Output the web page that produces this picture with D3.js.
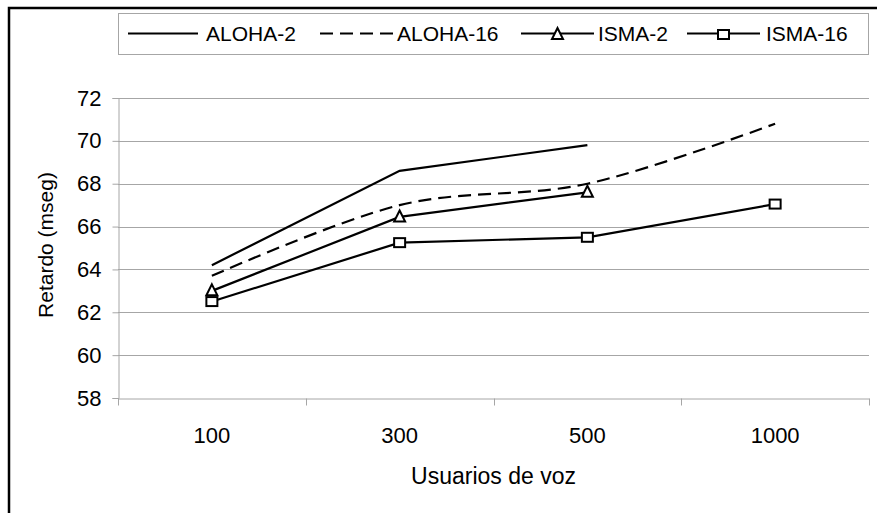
<!DOCTYPE html>
<html><head><meta charset="utf-8">
<script src="https://cdn.jsdelivr.net/npm/d3@7"></script>
<style>
html,body{margin:0;padding:0;background:#fff;}
svg{display:block;}
text{font-family:"Liberation Sans",Arial,sans-serif;fill:#000;}
</style></head>
<body>
<svg id="chart" width="877" height="513"></svg>
<script>
const categories = ["100","300","500","1000"];
const aloha2 = [64.2, 68.6, 69.8, null];
const aloha16 = [63.7, 67.0, 68.0, 70.8];
const isma2 = [63.0, 66.45, 67.6, null];
const isma16 = [62.5, 65.25, 65.5, 67.05];
const yTicks = [58,60,62,64,66,68,70,72];
const seriesNames = ["ALOHA-2","ALOHA-16","ISMA-2","ISMA-16"];

const series = [
  {name: seriesNames[0], values: aloha2, dash: null, marker: null, curve: d3.curveLinear},
  {name: seriesNames[1], values: aloha16, dash: "13,7", marker: null, curve: d3.curveCatmullRom.alpha(0)},
  {name: seriesNames[2], values: isma2, dash: null, marker: "triangle", curve: d3.curveLinear},
  {name: seriesNames[3], values: isma16, dash: null, marker: "square", curve: d3.curveLinear}
];

const svg = d3.select("#chart");
const plot = {left:118, right:869, top:98, bottom:398};

svg.append("path").attr("d","M9,520 L9,8 L880,8").attr("fill","none").attr("stroke","#000").attr("stroke-width",2.5);

const x = d3.scaleBand().domain(categories).range([plot.left, plot.right]).padding(0);
const y = d3.scaleLinear().domain([58,72]).range([plot.bottom, plot.top]);

const grid = "#a6a6a6";
svg.append("g").selectAll("line").data(yTicks.filter(t=>t>58)).join("line")
  .attr("x1",plot.left).attr("x2",plot.right)
  .attr("y1",d=>Math.round(y(d))+0.5).attr("y2",d=>Math.round(y(d))+0.5)
  .attr("stroke",grid).attr("stroke-width",1);

const yAxis = svg.append("g").attr("transform",`translate(${plot.left+0.5},0)`)
  .call(d3.axisLeft(y).tickValues(yTicks).tickSize(6).tickPadding(11).tickFormat(d3.format("d")));
yAxis.select(".domain").attr("stroke",grid);
yAxis.selectAll(".tick line").attr("stroke",grid);
yAxis.selectAll("text").attr("font-size","22px").attr("font-family","Liberation Sans, Arial, sans-serif").attr("fill","#000");

const xAxis = svg.append("g").attr("transform",`translate(0,${plot.bottom+0.5})`)
  .call(d3.axisBottom(x).tickSize(0).tickPadding(29));
xAxis.select(".domain").attr("stroke",grid);
xAxis.selectAll("text").attr("font-size","22px").attr("font-family","Liberation Sans, Arial, sans-serif").attr("fill","#000");
const bounds = categories.map(c=>x(c)).concat([x(categories[categories.length-1])+x.bandwidth()]);
xAxis.append("g").selectAll("line").data(bounds).join("line")
  .attr("x1",d=>Math.round(d)+0.5).attr("x2",d=>Math.round(d)+0.5)
  .attr("y1",0).attr("y2",7).attr("stroke",grid);

svg.append("text").attr("x",(plot.left+plot.right)/2).attr("y",484)
  .attr("text-anchor","middle").attr("font-size","23px").text("Usuarios de voz");
svg.append("text").attr("transform","translate(53,245) rotate(-90)")
  .attr("text-anchor","middle").attr("font-size","21px").text("Retardo (mseg)");

const cx = c => x(c) + x.bandwidth()/2;

function drawMarker(g, type, px, py){
  if(type==="triangle"){
    g.append("path").attr("d",`M${px},${py-6.5} L${px+5.5},${py+4.5} L${px-5.5},${py+4.5} Z`)
      .attr("fill","#fff").attr("stroke","#000").attr("stroke-width",2);
  } else if(type==="square"){
    g.append("rect").attr("x",px-5.5).attr("y",py-4.5).attr("width",11).attr("height",9)
      .attr("fill","#fff").attr("stroke","#000").attr("stroke-width",2);
  }
}

const gLines = svg.append("g");
series.forEach(s=>{
  const pts = categories.map((c,i)=>({c, v:s.values[i]})).filter(d=>d.v!=null);
  const line = d3.line().x(d=>cx(d.c)).y(d=>y(d.v)).curve(s.curve);
  gLines.append("path").attr("d",line(pts)).attr("fill","none").attr("stroke","#000")
    .attr("stroke-width",2.2).attr("stroke-dasharray",s.dash);
  if(s.marker){
    pts.forEach(d=>drawMarker(gLines, s.marker, cx(d.c), y(d.v)));
  }
});

const leg = svg.append("g");
leg.append("rect").attr("x",118.5).attr("y",13.5).attr("width",750).attr("height",41)
  .attr("fill","#fff").attr("stroke",grid).attr("stroke-width",1);
const legItems = [
  {x1:128, x2:198, tx:206},
  {x1:320, x2:394, tx:397},
  {x1:521, x2:594, tx:598},
  {x1:687, x2:760, tx:766}
];
series.forEach((s,i)=>{
  const it = legItems[i];
  const ly = 33.5;
  leg.append("line").attr("x1",it.x1).attr("x2",it.x2).attr("y1",ly).attr("y2",ly)
    .attr("stroke","#000").attr("stroke-width",2).attr("stroke-dasharray",s.dash ? "13,7" : null);
  if(s.marker) drawMarker(leg, s.marker, (it.x1+it.x2)/2, ly+1);
  leg.append("text").attr("x",it.tx).attr("y",ly+7.5).attr("font-size","21px").text(s.name);
});
</script>
</body></html>
